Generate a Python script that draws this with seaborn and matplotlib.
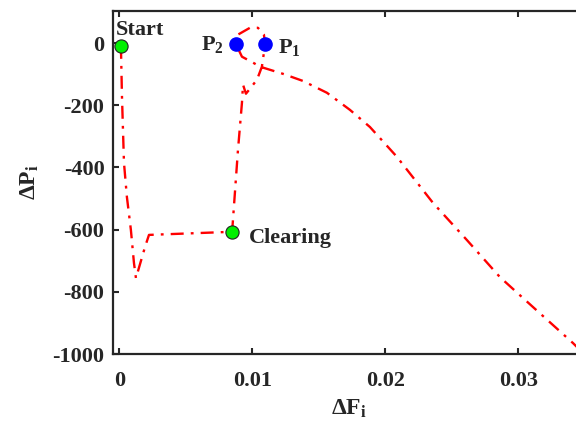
import matplotlib
matplotlib.use("Agg")
import matplotlib.pyplot as plt
import seaborn as sns
import pandas as pd

# trajectory data
dF = [0.00011, 0.00019, 0.00034, 0.00056, 0.00086, 0.00109, 0.00124, 0.00192, 0.00222,
      0.00847, 0.00891, 0.00921, 0.00929, 0.00951, 0.00981, 0.01034, 0.01071, 0.01086,
      0.01095, 0.01086, 0.01041, 0.00981, 0.00891, 0.00874, 0.00921, 0.01004, 0.01056,
      0.01229, 0.0138, 0.0156, 0.01733, 0.01883, 0.02086, 0.02357, 0.02613, 0.02861,
      0.03109, 0.0341, 0.03462]
dP = [-9, -173, -385, -495, -601, -707, -756, -656, -617,
      -607, -344, -192, -134, -163, -147, -118, -76, -31,
      -2, 27, 49, 49, 27, -2, -44, -63, -76,
      -99, -122, -160, -215, -270, -366, -514, -634, -753,
      -849, -965, -987]

green_x = [0.0001, 0.00847]
green_y = [-8, -607]
blue_x = [0.01095, 0.00874]
blue_y = [-2, -2]

x_ticks = [0, 0.01, 0.02, 0.03]
x_tick_labels = ["0", "0.01", "0.02", "0.03"]
y_ticks = [0, -200, -400, -600, -800, -1000]
y_tick_labels = ["0", "-200", "-400", "-600", "-800", "-1000"]

sns.set_style("ticks")
plt.rcParams["font.family"] = ["Liberation Serif", "DejaVu Serif"]
plt.rcParams["font.weight"] = "bold"
plt.rcParams["mathtext.fontset"] = "custom"
plt.rcParams["mathtext.rm"] = "Liberation Serif:bold"
plt.rcParams["mathtext.it"] = "Liberation Serif:bold"
plt.rcParams["mathtext.bf"] = "Liberation Serif:bold"

fig = plt.figure(figsize=(5.76, 4.25), dpi=100)
ax = fig.add_axes([112.8 / 576, (425 - 354) / 425, (585 - 112.8) / 576, (354 - 11) / 425])

df = pd.DataFrame({"dF": dF, "dP": dP, "order": range(len(dF))})
sns.lineplot(data=df, x="dF", y="dP", sort=False, estimator=None, ax=ax,
             color="red", linewidth=1.7, dashes=False)
line = ax.lines[-1]
line.set_dashes((5.5, 3, 1.2, 3))

ax.plot(green_x, green_y, "o", markersize=9.5, markerfacecolor="#00f000",
        markeredgecolor="#222222", markeredgewidth=0.8, zorder=5)
ax.plot(blue_x, blue_y, "o", markersize=9.5, markerfacecolor="#0000ff",
        markeredgecolor="#0000ff", zorder=5)

ax.text(-0.0003, 26, "Start", fontsize=16, fontweight="bold", ha="left", va="baseline")
ax.text(0.0097, -627, "Clearing", fontsize=16, fontweight="bold", ha="left", va="center")
ax.text(0.00785, -22, r"$\mathrm{P}_{2}$", fontsize=16, ha="right", va="baseline")
ax.text(0.01190, -32, r"$\mathrm{P}_{1}$", fontsize=16, ha="left", va="baseline")

ax.set_xlim(-0.0005, 0.035)
ax.set_ylim(-1000, 103)
ax.set_xticks(x_ticks)
ax.set_xticklabels(x_tick_labels)
ax.set_yticks(y_ticks)
ax.set_yticklabels(y_tick_labels)
ax.tick_params(direction="in", length=4, width=1.5, labelsize=16, top=True, right=True,
               colors="#262626")
ax.tick_params(axis="x", pad=12)
ax.tick_params(axis="y", pad=6)
for lab in ax.get_xticklabels() + ax.get_yticklabels():
    lab.set_fontweight("bold")
    lab.set_color("#262626")
for s in ax.spines.values():
    s.set_linewidth(1.6)
    s.set_color("#262626")

ax.set_xlabel(r"$\Delta\mathrm{F}_{\mathrm{i}}$", fontsize=17, color="#262626", labelpad=5)
ax.set_ylabel(r"$\Delta\mathrm{P}_{\mathrm{i}}$", fontsize=17, color="#262626", labelpad=8)

fig.savefig("out.png", dpi=100)
